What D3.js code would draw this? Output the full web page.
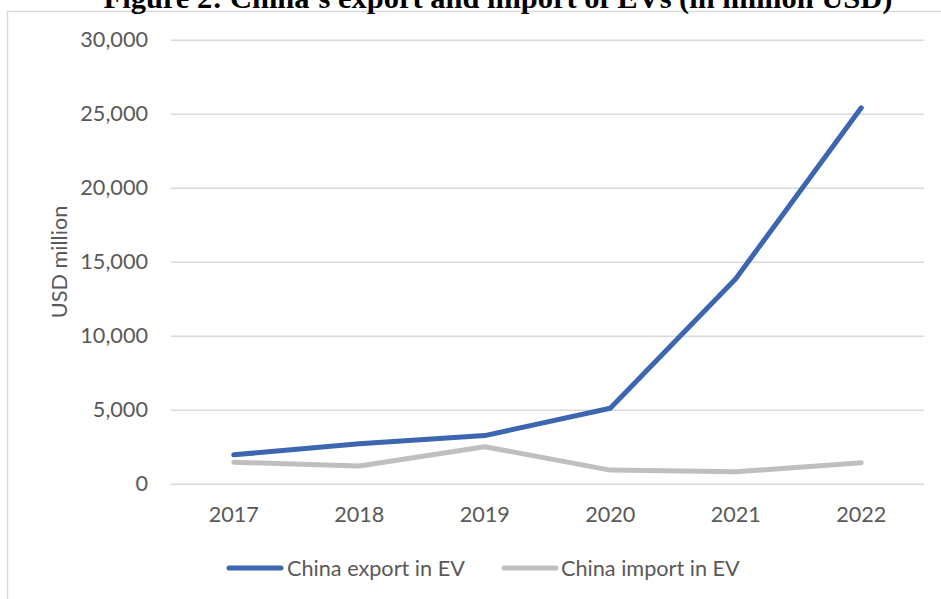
<!DOCTYPE html>
<html>
<head>
<meta charset="utf-8">
<script src="https://cdn.jsdelivr.net/npm/d3@7"></script>
<style>
  html, body { margin: 0; padding: 0; background: #fff; }
  svg { display: block; }
</style>
</head>
<body>
<svg id="chart" width="941" height="599"></svg>
<script>
const years = ["2017", "2018", "2019", "2020", "2021", "2022"];
const exportValues = [1950, 2700, 3250, 5100, 13850, 25400];
const importValues = [1450, 1200, 2500, 920, 800, 1420];
const yTicks = [0, 5000, 10000, 15000, 20000, 25000, 30000];
const seriesNames = ["China export in EV", "China import in EV"];
const titleText = "Figure 2: China\u2019s export and import of EVs (in million USD)";
const yTitle = "USD million";

const W = 941, H = 599;
const svg = d3.select("#chart");
const font = "Lato, 'Open Sans', sans-serif";
const textColor = "#595959";
const gridColor = "#d9d9d9";
const colors = ["#3d66b0", "#bfbfbf"];

function fit(sel, target) {
  const w = sel.node().getComputedTextLength();
  const fs = parseFloat(sel.attr("font-size"));
  sel.attr("font-size", fs * target / w);
  return fs * target / w;
}

// chart border
svg.append("rect")
  .attr("x", 7.5).attr("y", 11.5)
  .attr("width", 960).attr("height", 620)
  .attr("fill", "none").attr("stroke", gridColor).attr("stroke-width", 1.4);

// title
const t = svg.append("text")
  .attr("x", 498).attr("y", 8)
  .attr("text-anchor", "middle")
  .attr("font-family", "'Liberation Serif', 'Times New Roman', serif")
  .attr("font-weight", "bold")
  .attr("font-size", 26)
  .attr("fill", "#000")
  .text(titleText);
fit(t, 789);

const x = d3.scaleBand().domain(years).range([171, 924]);
const y = d3.scaleLinear().domain([0, 30000]).range([483.7, 39.7]);

// measure label font size from legend text width
const probe = svg.append("text").attr("font-family", font).attr("font-size", 20).text(seriesNames[0]);
const fs = fit(probe, 178);
probe.remove();

// gridlines + y axis
const yAxis = d3.axisLeft(y).tickValues(yTicks)
  .tickSize(-(924 - 171)).tickPadding(23)
  .tickFormat(d3.format(","));
const gy = svg.append("g").attr("transform", "translate(171,0)").call(yAxis);
gy.select(".domain").remove();
gy.selectAll(".tick line").attr("stroke", gridColor).attr("stroke-width", 1.4);
gy.selectAll(".tick text")
  .attr("font-family", font).attr("font-size", fs).attr("fill", textColor);

// x axis
const xAxis = d3.axisBottom(x).tickSize(0).tickPadding(0);
const gx = svg.append("g").attr("transform", "translate(0,483.7)").call(xAxis);
gx.select(".domain").remove();
gx.selectAll(".tick text")
  .attr("font-family", font).attr("font-size", fs).attr("fill", textColor)
  .attr("dy", null).attr("y", 38.5);

// y title
svg.append("text")
  .attr("transform", "translate(67,262) rotate(-90)")
  .attr("text-anchor", "middle")
  .attr("font-family", font).attr("font-size", fs).attr("fill", textColor)
  .text(yTitle);

// lines
const line = d3.line()
  .x((d, i) => x(years[i]) + x.bandwidth() / 2)
  .y(d => y(d));
[importValues, exportValues].forEach((vals, k) => {
  const ci = k === 0 ? 1 : 0;
  svg.append("path")
    .datum(vals)
    .attr("d", line)
    .attr("fill", "none")
    .attr("stroke", colors[ci])
    .attr("stroke-width", 5)
    .attr("stroke-linecap", "round")
    .attr("stroke-linejoin", "round");
});

// legend
const legendItems = [
  { name: seriesNames[0], color: colors[0], x0: 229, x1: 281, tx: 287 },
  { name: seriesNames[1], color: colors[1], x0: 504, x1: 556, tx: 561 }
];
const ly = 568;
legendItems.forEach(it => {
  svg.append("line")
    .attr("x1", it.x0).attr("x2", it.x1).attr("y1", ly).attr("y2", ly)
    .attr("stroke", it.color).attr("stroke-width", 5).attr("stroke-linecap", "round");
  svg.append("text")
    .attr("x", it.tx).attr("y", ly).attr("dy", "0.35em")
    .attr("font-family", font).attr("font-size", fs).attr("fill", textColor)
    .text(it.name);
});
</script>
</body>
</html>
